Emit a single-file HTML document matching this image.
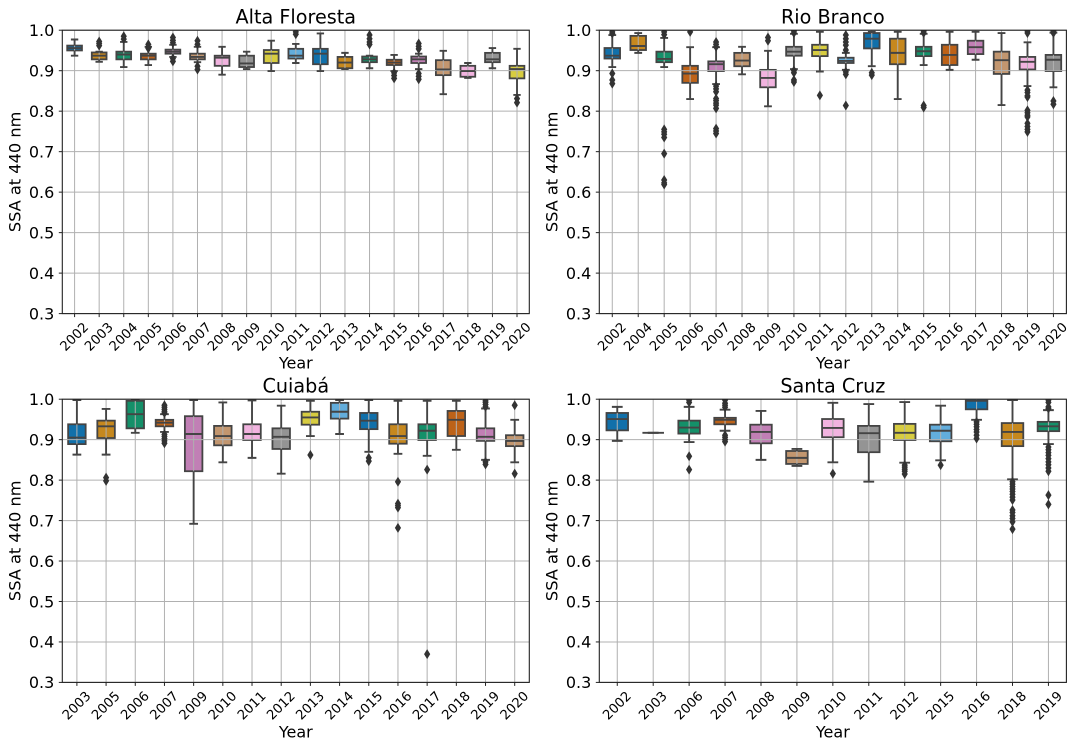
<!DOCTYPE html>
<html lang="en">
<head>
<meta charset="utf-8">
<title>SSA at 440 nm box plots</title>
<style>
  html, body { margin: 0; padding: 0; background: #fff; }
  body { width: 1076px; height: 747px; overflow: hidden; }
  svg { display: block; }
  text { font-family: "DejaVu Sans", "Liberation Sans", sans-serif; fill: #000; }
</style>
</head>
<body>
<svg id="figure" xmlns="http://www.w3.org/2000/svg" width="1076" height="747" viewBox="0 0 1076 747"></svg>
<script>
const yTicks = [0.3, 0.4, 0.5, 0.6, 0.7, 0.8, 0.9, 1.0];

const altaYears  = ['2002','2003','2004','2005','2006','2007','2008','2009','2010','2011','2012','2013','2014','2015','2016','2017','2018','2019','2020'];
const altaLow    = [.937,.922,.909,.914,.934,.921,.890,.904,.899,.919,.899,.904,.906,.899,.904,.842,.882,.906,.840];
const altaQ1     = [.950,.928,.928,.928,.942,.928,.912,.909,.919,.930,.916,.906,.921,.914,.919,.889,.885,.921,.881];
const altaMedian = [.956,.937,.940,.937,.947,.934,.932,.918,.942,.937,.942,.920,.928,.920,.928,.903,.899,.928,.904];
const altaQ3     = [.962,.945,.947,.942,.952,.942,.937,.937,.951,.954,.954,.934,.935,.927,.935,.926,.912,.944,.912];
const altaHigh   = [.977,.947,.971,.959,.964,.959,.959,.947,.974,.966,.992,.944,.937,.939,.942,.949,.919,.956,.954];
const altaFliers = [[],[.972,.967,.962],[.985,.978],[.965,.958,.955],[.982,.975,.969,.930,.923],[.974,.965,.911,.903],[],[],[],[.996,.990],[],[],[.988,.979,.971,.965],[.895,.888,.881],[.967,.960,.954,.893,.886,.879],[],[],[],[.831,.821]];

const rioYears  = ['2002','2004','2005','2006','2007','2008','2009','2010','2011','2012','2013','2014','2015','2016','2017','2018','2019','2020'];
const rioLow    = [.909,.944,.909,.830,.867,.891,.812,.904,.898,.902,.911,.830,.914,.902,.927,.815,.862,.859];
const rioQ1     = [.930,.951,.921,.870,.899,.911,.859,.937,.936,.919,.955,.916,.936,.914,.941,.892,.903,.899];
const rioMedian = [.937,.961,.929,.893,.916,.925,.882,.947,.951,.924,.979,.944,.948,.939,.958,.926,.922,.927];
const rioQ3     = [.956,.986,.947,.912,.923,.944,.902,.959,.964,.932,.993,.979,.959,.964,.974,.947,.934,.939];
const rioHigh   = [.988,.993,.981,.958,.958,.959,.949,.991,.996,.944,.996,.996,.991,.996,.996,.993,.970,.994];
const rioFliers = [[.996,.992,.893,.877,.868],[],[.996,.989,.755,.749,.743,.735,.695,.630,.623,.619],[.996],[.971,.965,.959,.862,.855,.848,.831,.826,.820,.815,.807,.757,.751,.745],[],[.982,.974],[.998,.993,.900,.895,.877,.872],[.839],[.988,.979,.971,.963,.951,.897,.891,.814],[.895,.889],[],[.998,.993,.814,.809],[],[],[],[.998,.993,.852,.846,.838,.835,.802,.796,.790,.786,.770,.762,.755,.749],[.998,.993,.825,.817]];

const cuiabaYears  = ['2003','2005','2006','2007','2009','2010','2011','2012','2013','2014','2015','2016','2017','2018','2019','2020'];
const cuiabaLow    = [.863,.863,.917,.919,.692,.844,.855,.816,.909,.914,.870,.865,.860,.875,.850,.844];
const cuiabaQ1     = [.889,.904,.928,.933,.822,.886,.899,.877,.937,.952,.926,.890,.899,.909,.897,.884];
const cuiabaMedian = [.905,.933,.963,.942,.914,.909,.914,.907,.955,.969,.947,.909,.922,.949,.907,.897];
const cuiabaQ3     = [.938,.947,.996,.949,.958,.934,.938,.928,.969,.991,.966,.938,.938,.971,.928,.911];
const cuiabaHigh   = [.998,.976,.998,.963,.998,.992,.997,.984,.996,.998,.998,.996,.996,.996,.977,.949];
const cuiabaFliers = [[],[.806,.798],[],[.985,.980,.975,.970,.966,.913,.908,.903,.897,.891],[],[],[],[],[.862],[],[.855,.847],[.796,.742,.737,.732,.682],[.826,.370],[],[.996,.992,.987,.981,.845,.839],[.985,.816]];

const santaYears  = ['2002','2003','2006','2007','2008','2009','2010','2011','2012','2015','2016','2018','2019'];
const santaLow    = [.897,.917,.894,.922,.850,.835,.844,.796,.843,.849,.949,.802,.889];
const santaQ1     = [.923,.917,.915,.938,.891,.840,.906,.869,.899,.896,.975,.884,.921];
const santaMedian = [.951,.917,.930,.949,.919,.855,.929,.916,.917,.922,.996,.919,.933];
const santaQ3     = [.966,.917,.947,.954,.937,.872,.951,.934,.939,.937,1.002,.941,.944];
const santaHigh   = [.981,.917,.981,.974,.971,.877,.991,.988,.993,.984,1.002,.998,.973];
const santaFliers = [[],[],[.998,.992,.859,.826],[.998,.990,.985,.980,.911,.906,.900,.895],[],[],[.816],[],[.837,.832,.827,.822,.815],[.837],[.944,.938,.932,.925,.919,.911,.903],[.796,.790,.784,.778,.772,.765,.758,.751,.726,.720,.712,.705,.697,.679],[.998,.992,.981,.977,.882,.875,.868,.861,.853,.845,.838,.830,.822,.763,.740]];

const palette = ['#1170aa','#c6881e','#149069','#bd6218','#c17fb5','#c2966f','#f1b3df','#949494','#d7cc40','#62addc'];
const svgNS = 'http://www.w3.org/2000/svg';
const figure = document.getElementById('figure');

function make(tag, parent, attrs) {
  const el = document.createElementNS(svgNS, tag);
  for (const key in attrs) el.setAttribute(key, attrs[key]);
  parent.appendChild(el);
  return el;
}

function drawPanel(p, slug, title, years, low, q1, median, q3, high, fliers) {
  const yScale = function (v) { return p.top + (1 - v) * (p.bottom - p.top) / 0.7; };
  const step = (p.right - p.left) / years.length;
  const xScale = function (i) { return p.left + (i + 0.5) * step; };
  const cx = (p.left + p.right) / 2;

  const panel = make('g', figure, {});
  
  

  const clip = make('clipPath', panel, { id: 'clip-' + slug });
  make('rect', clip, { x: p.left, y: p.top, width: p.right - p.left, height: p.bottom - p.top });

  const titleEl = make('text', panel, { x: cx, y: p.top - 6.5, 'text-anchor': 'middle', 'font-size': 19.2 });
  
  
  titleEl.textContent = title;

  const patches = make('g', panel, { 'clip-path': 'url(#clip-' + slug + ')' });
  
  
  years.forEach(function (year, i) {
    const boxW = step * 0.6;
    const box = make('rect', patches, {
      x: xScale(i) - boxW / 2, y: yScale(q3[i]), width: boxW, height: yScale(q1[i]) - yScale(q3[i]),
      fill: palette[i % palette.length], stroke: '#444', 'stroke-width': 1.8
    });
    
    
  });

  const grid = make('g', panel, { stroke: '#b0b0b0', 'stroke-width': 1 });
  
  
  yTicks.forEach(function (t) {
    make('line', grid, { x1: p.left, x2: p.right, y1: yScale(t), y2: yScale(t) });
  });
  years.forEach(function (year, i) {
    make('line', grid, { x1: xScale(i), x2: xScale(i), y1: p.top, y2: p.bottom });
  });

  const marks = make('g', panel, { 'clip-path': 'url(#clip-' + slug + ')', stroke: '#444', 'stroke-width': 1.9, fill: 'none' });
  
  
  years.forEach(function (year, i) {
    const x = xScale(i);
    const boxW = step * 0.6;
    const capW = step * 0.3;
    make('line', marks, { x1: x, x2: x, y1: yScale(q1[i]), y2: yScale(low[i]) });
    make('line', marks, { x1: x, x2: x, y1: yScale(q3[i]), y2: yScale(high[i]) });
    make('line', marks, { x1: x - capW / 2, x2: x + capW / 2, y1: yScale(low[i]), y2: yScale(low[i]) });
    make('line', marks, { x1: x - capW / 2, x2: x + capW / 2, y1: yScale(high[i]), y2: yScale(high[i]) });
    const med = make('line', marks, { x1: x - boxW / 2, x2: x + boxW / 2, y1: yScale(median[i]), y2: yScale(median[i]) });
    
    
    fliers[i].forEach(function (v) {
      const fy = yScale(v);
      const points = [[x, fy - 5], [x + 3.1, fy], [x, fy + 5], [x - 3.1, fy]].map(function (pt) { return pt.join(','); }).join(' ');
      const flier = make('polygon', marks, { points: points, fill: '#333', stroke: 'none' });
      
      
    });
  });

  const axes = make('g', panel, {});
  
  
  yTicks.forEach(function (t) {
    const y = yScale(t);
    make('line', axes, { x1: p.left - 3.5, x2: p.left, y1: y, y2: y, stroke: '#222', 'stroke-width': 1 });
    const label = make('text', axes, { x: p.left - 8, y: y + 5.8, 'text-anchor': 'end', 'font-size': 16 });
    
    
    label.textContent = t.toFixed(1);
  });
  years.forEach(function (year, i) {
    const x = xScale(i);
    make('line', axes, { x1: x, x2: x, y1: p.bottom, y2: p.bottom + 3.5, stroke: '#222', 'stroke-width': 1 });
    const label = make('text', axes, {
      'text-anchor': 'middle', 'font-size': 13.2,
      transform: 'translate(' + (x - 0.5) + ',' + (p.bottom + 23) + ') rotate(-45) translate(0,4.6)'
    });
    
    
    label.textContent = year;
  });

  const frame = make('rect', axes, { x: p.left, y: p.top, width: p.right - p.left, height: p.bottom - p.top, fill: 'none', stroke: '#222', 'stroke-width': 1.1 });
  
  

  const xTitle = make('text', axes, { x: cx, y: p.bottom + 55, 'text-anchor': 'middle', 'font-size': 16 });
  
  
  xTitle.textContent = 'Year';

  const yMid = (p.top + p.bottom) / 2;
  const yTitle = make('text', axes, { 'text-anchor': 'middle', 'font-size': 16.2, transform: 'translate(' + (p.left - 40.5 - 1.5) + ',' + yMid + ') rotate(-90)' });
  
  
  yTitle.textContent = 'SSA at 440 nm';
}

drawPanel({ left: 62.3, right: 529.3, top: 30.2, bottom: 313.6 }, 'alta-floresta', 'Alta Floresta', altaYears, altaLow, altaQ1, altaMedian, altaQ3, altaHigh, altaFliers);
drawPanel({ left: 599.3, right: 1066.4, top: 30.2, bottom: 313.6 }, 'rio-branco', 'Rio Branco', rioYears, rioLow, rioQ1, rioMedian, rioQ3, rioHigh, rioFliers);
drawPanel({ left: 62.3, right: 529.3, top: 399.2, bottom: 682.4 }, 'cuiaba', 'Cuiabá', cuiabaYears, cuiabaLow, cuiabaQ1, cuiabaMedian, cuiabaQ3, cuiabaHigh, cuiabaFliers);
drawPanel({ left: 599.3, right: 1066.4, top: 399.2, bottom: 682.4 }, 'santa-cruz', 'Santa Cruz', santaYears, santaLow, santaQ1, santaMedian, santaQ3, santaHigh, santaFliers);
</script>
</body>
</html>
